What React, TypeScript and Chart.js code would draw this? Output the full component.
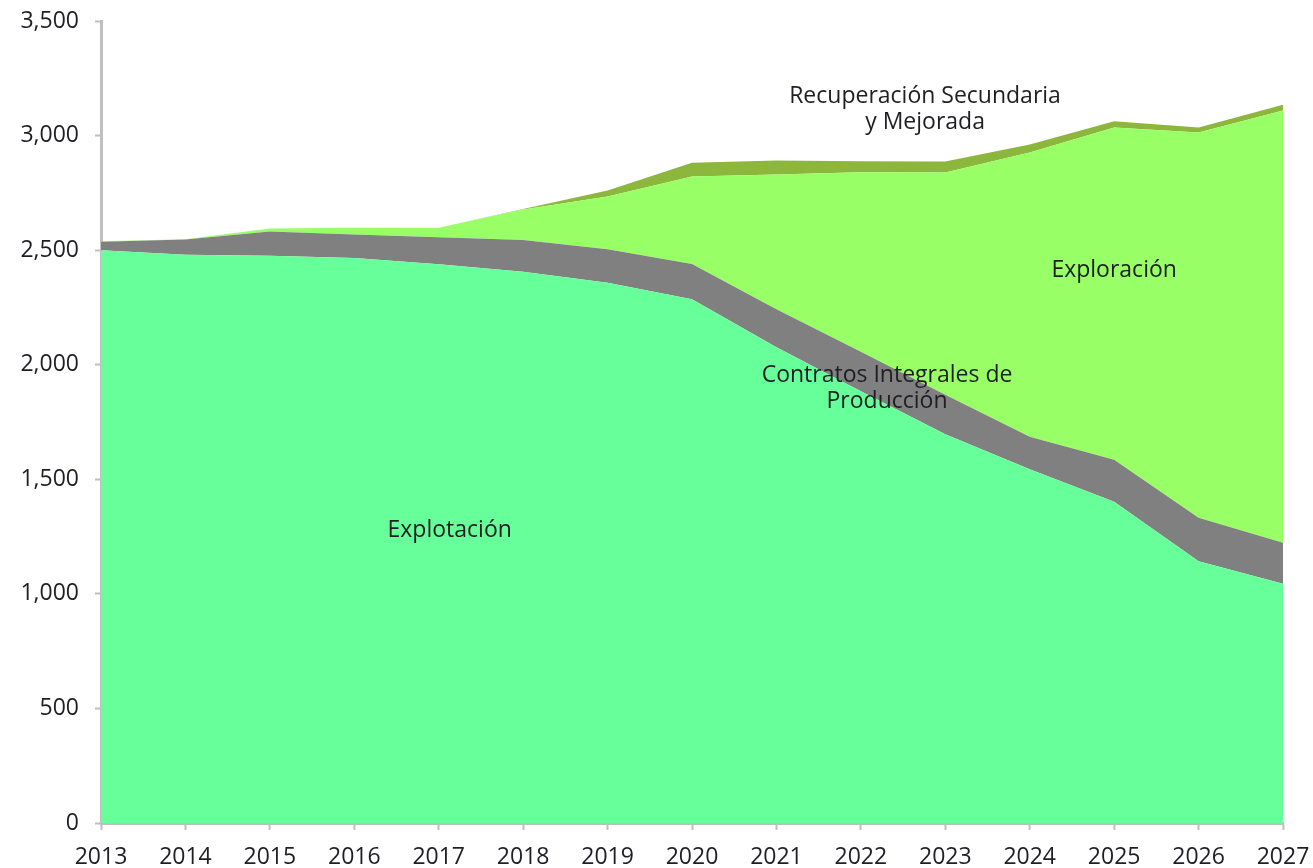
import React, { useEffect, useRef } from "react";
import { Chart, registerables } from "chart.js";

Chart.register(...registerables);

const years = ["2013","2014","2015","2016","2017","2018","2019","2020","2021","2022","2023","2024","2025","2026","2027"];
const explotacion = [2500, 2480, 2476, 2466, 2438, 2406, 2358, 2286, 2076, 1884, 1696, 1544, 1402, 1142, 1044];
const contratos = [37, 66, 105, 102, 118, 138, 146, 153, 166, 173, 173, 142, 183, 190, 179];
const exploracion = [2, 2, 13, 30, 42, 133, 230, 382, 588, 783, 970, 1240, 1450, 1681, 1886];
const recuperacion = [0, 0, 0, 0, 0, 3, 26, 60, 61, 48, 48, 35, 28, 22, 26];
const yTicks = [0, 500, 1000, 1500, 2000, 2500, 3000, 3500];

// Area labels: x as category index, y as data value (baseline of first line)
const areaLabels = [
  { lines: ["Explotación"], x: 4.13, y: 1248 },
  { lines: ["Contratos Integrales de", "Producción"], x: 9.31, y: 1924 },
  { lines: ["Exploración"], x: 12.0, y: 2383 },
  { lines: ["Recuperación Secundaria", "y Mejorada"], x: 9.76, y: 3142 },
];

const FONT = "'Open Sans', 'DejaVu Sans', sans-serif";
const TEXT = "#1E1E24";
const AXIS = "#BFBFBF";

const labelPlugin = {
  id: "areaLabels",
  afterDatasetsDraw(chart: any) {
    const { ctx, scales } = chart;
    ctx.save();
    ctx.font = `23px ${FONT}`;
    ctx.fillStyle = TEXT;
    ctx.textAlign = "center";
    ctx.textBaseline = "alphabetic";
    areaLabels.forEach((l) => {
      const px = scales.x.getPixelForValue(l.x);
      const py = scales.y.getPixelForValue(l.y);
      l.lines.forEach((t, i) => ctx.fillText(t, px, py + i * 26));
    });
    ctx.restore();
  },
};

export default function App() {
  const ref = useRef<HTMLCanvasElement>(null);
  useEffect(() => {
    if (!ref.current) return;
    const chart = new Chart(ref.current, {
      type: "line",
      data: {
        labels: years,
        datasets: [
          { label: "Explotación", data: explotacion, backgroundColor: "#66FF99", fill: "origin" },
          { label: "Contratos Integrales de Producción", data: contratos, backgroundColor: "#808080", fill: "-1" },
          { label: "Exploración", data: exploracion, backgroundColor: "#99FF66", fill: "-1" },
          { label: "Recuperación Secundaria y Mejorada", data: recuperacion, backgroundColor: "#8DB73C", fill: "-1" },
        ].map((d) => ({ ...d, borderWidth: 0, pointRadius: 0, tension: 0 })),
      },
      options: {
        responsive: false,
        animation: false,
        layout: { padding: { left: 0, top: 21, right: 30, bottom: 0 } },
        plugins: { legend: { display: false }, tooltip: { enabled: false } },
        elements: { line: { borderWidth: 0 } },
        scales: {
          x: {
            offset: false,
            grid: { display: true, drawOnChartArea: false, drawTicks: true, tickLength: 7, tickWidth: 2, tickColor: AXIS, color: AXIS },
            border: { display: true, color: AXIS, width: 3 },
            ticks: { color: TEXT, font: { family: FONT, size: 23 }, padding: 14, maxRotation: 0, autoSkip: false },
            afterFit: (s: any) => {
              s.height = 45;
              s.paddingLeft = 0;
              s.paddingRight = 0;
            },
          },
          y: {
            stacked: true,
            min: 0,
            max: 3500,
            afterBuildTicks: (s: any) => { s.ticks = yTicks.map((v) => ({ value: v })); },
            grid: { display: true, drawOnChartArea: false, drawTicks: true, tickLength: 6, tickWidth: 2, tickColor: AXIS, color: AXIS },
            border: { display: true, color: AXIS, width: 3 },
            ticks: {
              color: TEXT,
              font: { family: FONT, size: 23 },
              padding: 16,
              callback: (v: any) => Number(v).toLocaleString("en-US"),
            },
            afterFit: (s: any) => {
              s.width = 101;
              s.paddingTop = 0;
              s.paddingBottom = 0;
            },
          },
        },
      },
      plugins: [labelPlugin],
    });
    return () => chart.destroy();
  }, []);
  return (
    <div style={{ position: "absolute", left: 0, top: 0, width: 1313, height: 868, background: "#fff" }}>
      <canvas ref={ref} width={1313} height={868} style={{ display: "block" }} />
    </div>
  );
}
